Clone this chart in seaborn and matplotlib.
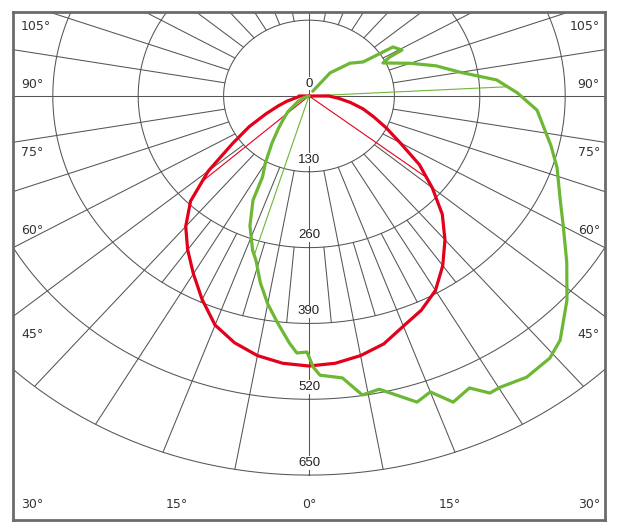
import numpy as np
import matplotlib.pyplot as plt
import seaborn as sns

# luminous intensity (cd), angle measured from nadir, negative = left side
red_angles = [-180, -90, -85, -80, -75, -70, -65, -60, -55, -50, -45, -40, -35, -30, -25, -20, -15, -10, -5,
              0, 5, 10, 15, 20, 25, 30, 35, 40, 45, 50, 55, 60, 65, 70, 75, 80, 85, 90, 180]
red_values = [0, 15, 16, 22, 35, 50, 72, 105, 142, 200, 255, 292, 322, 352, 385, 418, 438, 452, 460,
              463, 460, 452, 440, 420, 405, 385, 355, 322, 287, 245, 205, 160, 130, 105, 85, 64, 45, 30, 0]

green_angles = [-90, -70, -60, -50, -44, -40, -35, -30, -27, -25.5, -22, -18, -16, -13, -10, -7, -4,
                -2.4, -0.4, 0.8, 2, 6, 9, 12, 17.4, 20, 22.7, 26, 28.4, 30.2, 34.5, 39.2, 42.4, 48.3,
                54, 60, 65, 72, 77, 86, 91, 95.5, 100, 105, 110, 116.7, 118.5, 119.1, 123.3, 123.8,
                125.3, 132, 141, 145]
green_values = [0, 8, 20, 42, 57, 72, 98, 133, 156, 198, 240, 278, 293, 329, 362, 392, 425,
                441, 439, 465, 479, 486, 519, 514, 550, 540, 569, 557, 579, 578, 585, 580, 567, 526,
                485, 447, 422, 397, 378, 348, 317, 287, 234, 200, 164, 126, 140, 162, 153, 136,
                101, 84, 51, 10]

# half-intensity (beam) directions
red_beam = [-48, 52]
green_beam = [-17, 93]

ring_values = [130, 260, 390, 520, 650]
ring_labels = ["130", "260", "390", "520", "650"]
side_labels = ["105°", "90°", "75°", "60°", "45°", "30°"]
bottom_labels = ["15°", "0°", "15°"]

W, H = 618, 531
RED = "#e2001a"
GREEN = "#6cb733"
GRID = "#555555"


def to_xy(angle, r):
    a = np.radians(np.asarray(angle, dtype=float))
    r = np.asarray(r, dtype=float)
    return r * np.sin(a), -r * np.cos(a)


sns.set_style("white")
plt.rcParams["font.family"] = ["DejaVu Sans"]

fig = plt.figure(figsize=(W / 100, H / 100), dpi=100)
ax = fig.add_axes([13 / W, 1 - 520 / H, 592 / W, 508 / H])
ax.set_xlim(-450.6, 450.6)
ax.set_ylim(-727, 144)
ax.set_xticks([])
ax.set_yticks([])
for s in ax.spines.values():
    s.set_color("#6b6b6b")
    s.set_linewidth(2)
    s.set_zorder(10)

# grid: rings and spokes
t = np.linspace(0, 360, 721)
for r in ring_values:
    x, y = to_xy(t, np.full_like(t, r))
    ax.plot(x, y, color=GRID, lw=0.75, zorder=1)
for a in range(0, 360, 10):
    r0 = 0 if a % 90 == 0 else ring_values[0]
    x, y = to_xy([a, a], [r0, ring_values[-1]])
    ax.plot(x, y, color=GRID, lw=0.75, zorder=1)
for a in range(-35, 40, 10):
    x, y = to_xy([a, a], [ring_values[1], ring_values[2]])
    ax.plot(x, y, color=GRID, lw=0.75, zorder=1)

# ring labels on the nadir axis
for r, lab in zip([0] + ring_values, ["0"] + ring_labels):
    ax.text(0, -r + 21, lab, ha="center", va="center", fontsize=9.5, family="Liberation Sans",
            color="#222222", zorder=3,
            bbox=dict(facecolor="white", edgecolor="none", pad=0.5))

# angle labels along the frame
side_y = [27, 85, 152, 230, 335, 505]
for lab, py in zip(side_labels, side_y):
    fy = 1 - (py - 12) / 508
    ax.text(8 / 592, fy, lab, transform=ax.transAxes, ha="left", va="center",
            fontsize=9, color="#333333")
    ax.text(1 - 5 / 592, fy, lab, transform=ax.transAxes, ha="right", va="center",
            fontsize=9, color="#333333")
bottom_x = [177, 309, 450]
for lab, px in zip(bottom_labels, bottom_x):
    ax.text((px - 13) / 592, 1 - (505 - 12) / 508, lab, transform=ax.transAxes,
            ha="center", va="center", fontsize=9, color="#333333")

# beam lines
for a in red_beam:
    r = np.interp(a, red_angles, red_values)
    x, y = to_xy([a, a], [0, r])
    ax.plot(x, y, color=RED, lw=0.8, zorder=4)
for a in green_beam:
    r = np.interp(a, green_angles, green_values)
    x, y = to_xy([a, a], [0, r])
    ax.plot(x, y, color=GREEN, lw=0.8, zorder=4)

# intensity curves
rx, ry = to_xy(red_angles, red_values)
sns.lineplot(x=rx, y=ry, sort=False, estimator=None, color=RED, lw=2.3, ax=ax, zorder=5)
gx, gy = to_xy(green_angles, green_values)
sns.lineplot(x=gx, y=gy, sort=False, estimator=None, color=GREEN, lw=2.3, ax=ax, zorder=6)

fig.savefig("out.png", dpi=100)
